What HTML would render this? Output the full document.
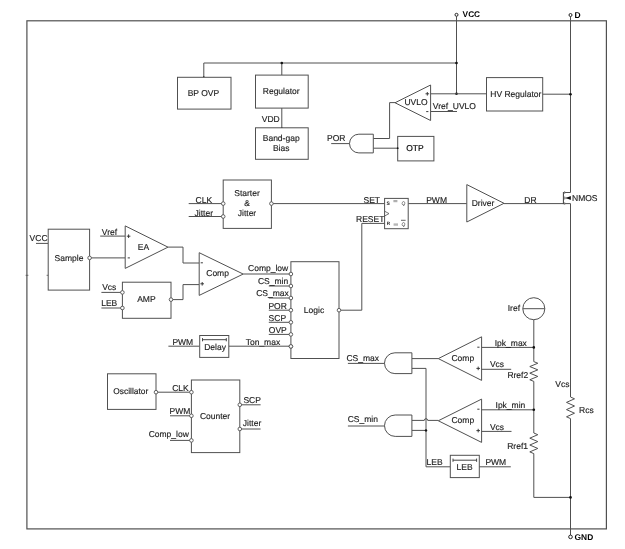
<!DOCTYPE html>
<html lang="en">
<head>
<meta charset="utf-8">
<title>Block diagram</title>
<style>
html,body{margin:0;padding:0;background:#fff;}
body{width:625px;height:549px;overflow:hidden;}
svg{display:block;will-change:transform;font-family:"Liberation Sans",sans-serif;-webkit-font-smoothing:antialiased;text-rendering:geometricPrecision;}
</style>
</head>
<body>
<svg width="625" height="549" viewBox="0 0 625 549">
<rect x="0" y="0" width="625" height="549" fill="#fff"/>
<rect x="26.9" y="20.8" width="579.5" height="508.1" fill="none" stroke="#505050" stroke-width="1.2"/>
<path d="M456.5 16.4 L456.5 93.8" stroke="#505050" stroke-width="1" fill="none"/>
<circle cx="456.5" cy="14.8" r="1.5" fill="#fff" stroke="#222" stroke-width="1"/>
<text x="462.6" y="16.688" font-size="8.3" text-anchor="start" font-weight="bold" fill="#000">VCC</text>
<path d="M570.5 16.6 L570.5 192.5" stroke="#505050" stroke-width="1" fill="none"/>
<circle cx="570.5" cy="15" r="1.5" fill="#fff" stroke="#222" stroke-width="1"/>
<text x="574.6" y="17.86" font-size="8.5" text-anchor="start" font-weight="bold" fill="#000">D</text>
<path d="M203.8 77.1 L203.8 63 L456.5 63" stroke="#505050" stroke-width="1" fill="none"/>
<path d="M281.8 63 L281.8 75.1" stroke="#505050" stroke-width="1" fill="none"/>
<circle cx="203.8" cy="77.1" r="0.8" fill="#111"/>
<circle cx="281.8" cy="63" r="1.3" fill="#111"/>
<circle cx="456.5" cy="63" r="1.3" fill="#111"/>
<circle cx="456.5" cy="93.8" r="1.3" fill="#111"/>
<rect x="177.5" y="77.3" width="53.5" height="31.8" fill="#fff" stroke="#505050" stroke-width="1"/>
<text x="203.4" y="95.66" font-size="8.5" text-anchor="middle" fill="#1c1c1c" stroke="#1c1c1c" stroke-width="0.15">BP OVP</text>
<rect x="255.5" y="75.1" width="52.7" height="33" fill="#fff" stroke="#505050" stroke-width="1"/>
<text x="281.2" y="94.16" font-size="8.5" text-anchor="middle" fill="#1c1c1c" stroke="#1c1c1c" stroke-width="0.15">Regulator</text>
<path d="M281.8 108.1 L281.8 127.8" stroke="#505050" stroke-width="1" fill="none"/>
<text x="261.8" y="121.96" font-size="8.5" text-anchor="start" fill="#1c1c1c" stroke="#1c1c1c" stroke-width="0.15">VDD</text>
<circle cx="281.8" cy="127.8" r="0.8" fill="#111"/>
<rect x="255.5" y="127.8" width="52.7" height="31.5" fill="#fff" stroke="#505050" stroke-width="1"/>
<text x="281.2" y="141.06" font-size="8.5" text-anchor="middle" fill="#1c1c1c" stroke="#1c1c1c" stroke-width="0.15">Band-gap</text>
<text x="281.2" y="150.66" font-size="8.5" text-anchor="middle" fill="#1c1c1c" stroke="#1c1c1c" stroke-width="0.15">Bias</text>
<path d="M430.6 93.8 L486.5 93.8" stroke="#505050" stroke-width="1" fill="none"/>
<path d="M430.6 111.5 L457 111.5" stroke="#505050" stroke-width="1" fill="none"/>
<path d="M430.6 85 L395 102.75 L430.6 120.5 Z" fill="#fff" stroke="#505050" stroke-width="1"/>
<text x="416" y="105.16" font-size="8.5" text-anchor="middle" fill="#1c1c1c" stroke="#1c1c1c" stroke-width="0.15">UVLO</text>
<path d="M425.5 93.8 L429.1 93.8" stroke="#2a2a2a" stroke-width="0.9" fill="none"/>
<path d="M427.3 92 L427.3 95.6" stroke="#2a2a2a" stroke-width="0.9" fill="none"/>
<path d="M426.2 111.6 L428.4 111.6" stroke="#222" stroke-width="0.9" fill="none"/>
<text x="432.8" y="108.56" font-size="8.5" text-anchor="start" fill="#1c1c1c" stroke="#1c1c1c" stroke-width="0.15">Vref_UVLO</text>
<path d="M395 102.6 L389.6 102.6 L389.6 138.5 L373.3 138.5" stroke="#505050" stroke-width="1" fill="none"/>
<rect x="486.5" y="77.6" width="56.2" height="33.4" fill="#fff" stroke="#505050" stroke-width="1"/>
<text x="515.8" y="96.96" font-size="8.5" text-anchor="middle" fill="#1c1c1c" stroke="#1c1c1c" stroke-width="0.15">HV Regulator</text>
<path d="M542.7 94.2 L570.5 94.2" stroke="#505050" stroke-width="1" fill="none"/>
<circle cx="570.5" cy="94.2" r="1.3" fill="#111"/>
<path d="M331.2 143.6 L351 143.6" stroke="#505050" stroke-width="1" fill="none"/>
<text x="327" y="141.26" font-size="8.5" text-anchor="start" fill="#1c1c1c" stroke="#1c1c1c" stroke-width="0.15">POR</text>
<path d="M373.3 148.2 L397.7 148.2" stroke="#505050" stroke-width="1" fill="none"/>
<path d="M373.3 134.2 L358.85 134.2 A9.35 9.35 0 0 0 358.85 152.9 L373.3 152.9 Z" fill="#fff" stroke="#505050" stroke-width="1"/>
<rect x="397.7" y="136.4" width="36.2" height="24.5" fill="#fff" stroke="#505050" stroke-width="1"/>
<text x="415" y="150.96" font-size="8.5" text-anchor="middle" fill="#000" stroke="#000" stroke-width="0.15">OTP</text>
<circle cx="397.7" cy="148.2" r="0.9" fill="#111"/>
<path d="M188.7 203.6 L223.2 203.6" stroke="#505050" stroke-width="1" fill="none"/>
<path d="M188.7 216.5 L223.2 216.5" stroke="#505050" stroke-width="1" fill="none"/>
<text x="203.8" y="203.46" font-size="8.5" text-anchor="middle" fill="#1c1c1c" stroke="#1c1c1c" stroke-width="0.15">CLK</text>
<text x="203.8" y="215.66" font-size="8.5" text-anchor="middle" fill="#1c1c1c" stroke="#1c1c1c" stroke-width="0.15">Jitter</text>
<rect x="223.2" y="180" width="48.2" height="48.4" fill="#fff" stroke="#505050" stroke-width="1"/>
<text x="247" y="195.96" font-size="8.5" text-anchor="middle" fill="#1c1c1c" stroke="#1c1c1c" stroke-width="0.15">Starter</text>
<text x="247" y="205.96" font-size="8.5" text-anchor="middle" fill="#1c1c1c" stroke="#1c1c1c" stroke-width="0.15">&amp;</text>
<text x="247" y="215.96" font-size="8.5" text-anchor="middle" fill="#1c1c1c" stroke="#1c1c1c" stroke-width="0.15">Jitter</text>
<path d="M271.4 203.6 L384.6 203.6" stroke="#505050" stroke-width="1" fill="none"/>
<circle cx="223.2" cy="203.6" r="1.8" fill="#fff" stroke="#505050" stroke-width="0.9"/>
<circle cx="223.2" cy="216.5" r="1.8" fill="#fff" stroke="#505050" stroke-width="0.9"/>
<circle cx="271.4" cy="203.6" r="1.8" fill="#fff" stroke="#505050" stroke-width="0.9"/>
<path d="M361.8 310.2 L361.8 223.4 L384.6 223.4" stroke="#505050" stroke-width="1" fill="none"/>
<path d="M408.2 203.6 L466.8 203.6" stroke="#505050" stroke-width="1" fill="none"/>
<rect x="384.6" y="198.4" width="23.6" height="30.3" fill="#fff" stroke="#505050" stroke-width="1"/>
<text x="371.8" y="202.86" font-size="8.5" text-anchor="middle" fill="#1c1c1c" stroke="#1c1c1c" stroke-width="0.15">SET</text>
<text x="370.2" y="222.26" font-size="8.5" text-anchor="middle" fill="#1c1c1c" stroke="#1c1c1c" stroke-width="0.15">RESET</text>
<text x="436.6" y="203.06" font-size="8.5" text-anchor="middle" fill="#1c1c1c" stroke="#1c1c1c" stroke-width="0.15">PWM</text>
<text x="388.2" y="204.6" font-size="5" text-anchor="middle" font-weight="bold" fill="#222">S</text>
<text x="403.4" y="204.6" font-size="5" text-anchor="middle" font-style="italic" fill="#222">Q</text>
<text x="388.4" y="225.456" font-size="4.6" text-anchor="middle" font-weight="bold" fill="#222">R</text>
<text x="403.4" y="226" font-size="5" text-anchor="middle" font-style="italic" fill="#222">Q</text>
<path d="M401 220.3 L405.6 220.3" stroke="#222" stroke-width="0.7" fill="none"/>
<path d="M393.4 200.6 L397.4 200.6" stroke="#666" stroke-width="0.6" fill="none"/>
<path d="M393.4 201.7 L397.4 201.7" stroke="#666" stroke-width="0.6" fill="none"/>
<path d="M393.6 224 L398 224" stroke="#666" stroke-width="0.6" fill="none"/>
<path d="M393.6 225.1 L398 225.1" stroke="#666" stroke-width="0.6" fill="none"/>
<path d="M384.6 211.2 L389 213.6 L384.6 216" stroke="#505050" stroke-width="0.8" fill="none"/>
<path d="M466.8 184.6 L504 203.3 L466.8 222 Z" fill="#fff" stroke="#505050" stroke-width="1"/>
<text x="483" y="206.46" font-size="8.5" text-anchor="middle" fill="#1c1c1c" stroke="#1c1c1c" stroke-width="0.15">Driver</text>
<path d="M504 203.6 L563.4 203.6" stroke="#505050" stroke-width="1" fill="none"/>
<text x="530.4" y="203.06" font-size="8.5" text-anchor="middle" fill="#1c1c1c" stroke="#1c1c1c" stroke-width="0.15">DR</text>
<path d="M563.4 192 L563.4 204.2" stroke="#3a3a3a" stroke-width="1" fill="none"/>
<path d="M564.2 192.5 L570.5 192.5" stroke="#505050" stroke-width="1" fill="none"/>
<path d="M564.2 203.6 L570.5 203.6" stroke="#505050" stroke-width="1" fill="none"/>
<path d="M564.7 191 L564.7 194" stroke="#777" stroke-width="0.8" fill="none"/>
<path d="M564.7 196.4 L564.7 199.6" stroke="#777" stroke-width="0.8" fill="none"/>
<path d="M564.7 202.2 L564.7 205" stroke="#777" stroke-width="0.8" fill="none"/>
<path d="M564.6 198 L570.5 198" stroke="#505050" stroke-width="0.9" fill="none"/>
<path d="M565.8 198 L570.8 196 L570.8 200 Z" fill="#111"/>
<text x="572" y="200.66" font-size="8.5" text-anchor="start" fill="#1c1c1c" stroke="#1c1c1c" stroke-width="0.15">NMOS</text>
<path d="M570.5 203.6 L570.5 397" stroke="#505050" stroke-width="1" fill="none"/>
<path d="M570.5 397 L574.5 398.8 L566.5 402.4 L574.5 406 L566.5 409.6 L574.5 413.2 L566.5 416.8 L570.5 418.6" stroke="#505050" stroke-width="1" fill="none"/>
<path d="M570.5 418.6 L570.5 535" stroke="#505050" stroke-width="1" fill="none"/>
<text x="579" y="413.06" font-size="8.5" text-anchor="start" fill="#1c1c1c" stroke="#1c1c1c" stroke-width="0.15">Rcs</text>
<text x="569.4" y="387.06" font-size="8.5" text-anchor="end" fill="#1c1c1c" stroke="#1c1c1c" stroke-width="0.15">Vcs</text>
<circle cx="570.5" cy="536.9" r="1.8" fill="#fff" stroke="#222" stroke-width="1"/>
<text x="574.6" y="539.724" font-size="8.4" text-anchor="start" font-weight="bold" fill="#000">GND</text>
<path d="M36 243.4 L48.2 243.4" stroke="#505050" stroke-width="1" fill="none"/>
<text x="29.6" y="241.06" font-size="8.5" text-anchor="start" fill="#1c1c1c" stroke="#1c1c1c" stroke-width="0.15">VCC</text>
<rect x="48.2" y="229.2" width="41.4" height="60.9" fill="#fff" stroke="#505050" stroke-width="1"/>
<text x="69" y="260.56" font-size="8.5" text-anchor="middle" fill="#1c1c1c" stroke="#1c1c1c" stroke-width="0.15">Sample</text>
<path d="M89.6 257.9 L125.2 257.9" stroke="#505050" stroke-width="1" fill="none"/>
<circle cx="89.6" cy="257.9" r="1.8" fill="#fff" stroke="#505050" stroke-width="0.9"/>
<path d="M100.2 236.1 L125.2 236.1" stroke="#505050" stroke-width="1" fill="none"/>
<text x="101.8" y="234.86" font-size="8.5" text-anchor="start" fill="#1c1c1c" stroke="#1c1c1c" stroke-width="0.15">Vref</text>
<path d="M125.2 225.9 L168 247.15 L125.2 268.4 Z" fill="#fff" stroke="#505050" stroke-width="1"/>
<text x="143.4" y="249.96" font-size="8.5" text-anchor="middle" fill="#1c1c1c" stroke="#1c1c1c" stroke-width="0.15">EA</text>
<path d="M126.8 236.2 L130.4 236.2" stroke="#2a2a2a" stroke-width="0.9" fill="none"/>
<path d="M128.6 234.4 L128.6 238" stroke="#2a2a2a" stroke-width="0.9" fill="none"/>
<path d="M127.7 257.9 L129.9 257.9" stroke="#222" stroke-width="0.9" fill="none"/>
<path d="M168 247.1 L183 247.1 L183 263 L199.2 263" stroke="#505050" stroke-width="1" fill="none"/>
<path d="M101.4 292.4 L122.4 292.4" stroke="#505050" stroke-width="1" fill="none"/>
<path d="M101.4 308 L122.4 308" stroke="#505050" stroke-width="1" fill="none"/>
<text x="102.2" y="290.46" font-size="8.5" text-anchor="start" fill="#1c1c1c" stroke="#1c1c1c" stroke-width="0.15">Vcs</text>
<text x="101.2" y="305.86" font-size="8.5" text-anchor="start" fill="#1c1c1c" stroke="#1c1c1c" stroke-width="0.15">LEB</text>
<rect x="122.4" y="282.2" width="48.6" height="36.1" fill="#fff" stroke="#505050" stroke-width="1"/>
<text x="146.4" y="302.26" font-size="8.5" text-anchor="middle" fill="#1c1c1c" stroke="#1c1c1c" stroke-width="0.15">AMP</text>
<path d="M171 299.6 L183 299.6 L183 284.6 L199.2 284.6" stroke="#505050" stroke-width="1" fill="none"/>
<circle cx="122.4" cy="292.4" r="1.8" fill="#fff" stroke="#505050" stroke-width="0.9"/>
<circle cx="122.4" cy="308" r="1.8" fill="#fff" stroke="#505050" stroke-width="0.9"/>
<circle cx="171" cy="299.6" r="1.8" fill="#fff" stroke="#505050" stroke-width="0.9"/>
<path d="M199.2 252.7 L243.2 274.05 L199.2 295.4 Z" fill="#fff" stroke="#505050" stroke-width="1"/>
<text x="217.6" y="276.26" font-size="8.5" text-anchor="middle" fill="#1c1c1c" stroke="#1c1c1c" stroke-width="0.15">Comp</text>
<path d="M200.7 262.8 L202.9 262.8" stroke="#222" stroke-width="0.9" fill="none"/>
<path d="M200.4 283.8 L204 283.8" stroke="#2a2a2a" stroke-width="0.9" fill="none"/>
<path d="M202.2 282 L202.2 285.6" stroke="#2a2a2a" stroke-width="0.9" fill="none"/>
<path d="M243.2 274 L290.9 274" stroke="#505050" stroke-width="1" fill="none"/>
<rect x="290.9" y="261.7" width="48.1" height="96.8" fill="#fff" stroke="#505050" stroke-width="1"/>
<text x="314" y="312.86" font-size="8.5" text-anchor="middle" fill="#1c1c1c" stroke="#1c1c1c" stroke-width="0.15">Logic</text>
<path d="M268.8 286 L290.9 286" stroke="#505050" stroke-width="1" fill="none"/>
<path d="M268.8 298 L290.9 298" stroke="#505050" stroke-width="1" fill="none"/>
<path d="M268.8 310.2 L290.9 310.2" stroke="#505050" stroke-width="1" fill="none"/>
<path d="M268.8 322.3 L290.9 322.3" stroke="#505050" stroke-width="1" fill="none"/>
<path d="M268.8 334.4 L290.9 334.4" stroke="#505050" stroke-width="1" fill="none"/>
<text x="288.2" y="271.26" font-size="8.5" text-anchor="end" fill="#1c1c1c" stroke="#1c1c1c" stroke-width="0.15">Comp_low</text>
<text x="288.2" y="283.86" font-size="8.5" text-anchor="end" fill="#1c1c1c" stroke="#1c1c1c" stroke-width="0.15">CS_min</text>
<text x="288.8" y="295.86" font-size="8.5" text-anchor="end" fill="#1c1c1c" stroke="#1c1c1c" stroke-width="0.15">CS_max</text>
<text x="268.4" y="309.06" font-size="8.5" text-anchor="start" fill="#1c1c1c" stroke="#1c1c1c" stroke-width="0.15">POR</text>
<text x="268.6" y="321.06" font-size="8.5" text-anchor="start" fill="#1c1c1c" stroke="#1c1c1c" stroke-width="0.15">SCP</text>
<text x="268.8" y="333.26" font-size="8.5" text-anchor="start" fill="#1c1c1c" stroke="#1c1c1c" stroke-width="0.15">OVP</text>
<text x="280.2" y="345.46" font-size="8.5" text-anchor="end" fill="#1c1c1c" stroke="#1c1c1c" stroke-width="0.15">Ton_max</text>
<path d="M339 310.2 L361.8 310.2" stroke="#505050" stroke-width="1" fill="none"/>
<circle cx="290.9" cy="274" r="1.8" fill="#fff" stroke="#505050" stroke-width="0.9"/>
<circle cx="290.9" cy="286" r="1.8" fill="#fff" stroke="#505050" stroke-width="0.9"/>
<circle cx="290.9" cy="298" r="1.8" fill="#fff" stroke="#505050" stroke-width="0.9"/>
<circle cx="290.9" cy="310.2" r="1.8" fill="#fff" stroke="#505050" stroke-width="0.9"/>
<circle cx="290.9" cy="322.3" r="1.8" fill="#fff" stroke="#505050" stroke-width="0.9"/>
<circle cx="290.9" cy="334.4" r="1.8" fill="#fff" stroke="#505050" stroke-width="0.9"/>
<circle cx="290.9" cy="346.4" r="1.8" fill="#fff" stroke="#505050" stroke-width="0.9"/>
<circle cx="339" cy="310.2" r="1.8" fill="#fff" stroke="#505050" stroke-width="0.9"/>
<path d="M168.4 346.2 L199.4 346.2" stroke="#505050" stroke-width="1" fill="none"/>
<text x="182.8" y="345.26" font-size="8.5" text-anchor="middle" fill="#1c1c1c" stroke="#1c1c1c" stroke-width="0.15">PWM</text>
<path d="M228.8 346.2 L290.9 346.2" stroke="#505050" stroke-width="1" fill="none"/>
<rect x="199.7" y="335.5" width="29.1" height="21.9" fill="#fff" stroke="#505050" stroke-width="1"/>
<text x="215.1" y="350.46" font-size="8.5" text-anchor="middle" fill="#1c1c1c" stroke="#1c1c1c" stroke-width="0.15">Delay</text>
<path d="M202.5 339.7 L226.3 339.7" stroke="#444" stroke-width="1" fill="none"/>
<path d="M202.5 338.1 L202.5 341.3" stroke="#444" stroke-width="1" fill="none"/>
<path d="M226.3 338.1 L226.3 341.3" stroke="#444" stroke-width="1" fill="none"/>
<circle cx="290.9" cy="346.4" r="1.8" fill="#fff" stroke="#505050" stroke-width="0.9"/>
<rect x="107.5" y="373.8" width="48.5" height="35.6" fill="#fff" stroke="#505050" stroke-width="1"/>
<text x="130.8" y="394.024" font-size="8.4" text-anchor="middle" fill="#1c1c1c" stroke="#1c1c1c" stroke-width="0.15">Oscillator</text>
<path d="M156 392.2 L191.4 392.2" stroke="#505050" stroke-width="1" fill="none"/>
<path d="M170 415.8 L191.4 415.8" stroke="#505050" stroke-width="1" fill="none"/>
<path d="M170 440.4 L191.4 440.4" stroke="#505050" stroke-width="1" fill="none"/>
<rect x="191.4" y="380" width="48.4" height="72.6" fill="#fff" stroke="#505050" stroke-width="1"/>
<text x="215" y="418.66" font-size="8.5" text-anchor="middle" fill="#1c1c1c" stroke="#1c1c1c" stroke-width="0.15">Counter</text>
<text x="180.4" y="390.86" font-size="8.5" text-anchor="middle" fill="#1c1c1c" stroke="#1c1c1c" stroke-width="0.15">CLK</text>
<text x="180" y="414.06" font-size="8.5" text-anchor="middle" fill="#1c1c1c" stroke="#1c1c1c" stroke-width="0.15">PWM</text>
<text x="188.8" y="436.66" font-size="8.5" text-anchor="end" fill="#1c1c1c" stroke="#1c1c1c" stroke-width="0.15">Comp_low</text>
<path d="M239.8 404.8 L260.6 404.8" stroke="#505050" stroke-width="1" fill="none"/>
<path d="M239.8 429 L260.6 429" stroke="#505050" stroke-width="1" fill="none"/>
<text x="243.4" y="402.86" font-size="8.5" text-anchor="start" fill="#1c1c1c" stroke="#1c1c1c" stroke-width="0.15">SCP</text>
<text x="242.8" y="426.46" font-size="8.5" text-anchor="start" fill="#1c1c1c" stroke="#1c1c1c" stroke-width="0.15">Jitter</text>
<circle cx="156" cy="392.2" r="1.8" fill="#fff" stroke="#505050" stroke-width="0.9"/>
<circle cx="191.4" cy="392.2" r="1.8" fill="#fff" stroke="#505050" stroke-width="0.9"/>
<circle cx="191.4" cy="415.8" r="1.8" fill="#fff" stroke="#505050" stroke-width="0.9"/>
<circle cx="191.4" cy="440.4" r="1.8" fill="#fff" stroke="#505050" stroke-width="0.9"/>
<circle cx="239.8" cy="404.8" r="1.8" fill="#fff" stroke="#505050" stroke-width="0.9"/>
<circle cx="239.8" cy="429" r="1.8" fill="#fff" stroke="#505050" stroke-width="0.9"/>
<path d="M347.9 363.4 L386 363.4" stroke="#505050" stroke-width="1" fill="none"/>
<text x="346.4" y="361.06" font-size="8.5" text-anchor="start" fill="#1c1c1c" stroke="#1c1c1c" stroke-width="0.15">CS_max</text>
<path d="M411.9 358.6 L438.3 358.6" stroke="#505050" stroke-width="1" fill="none"/>
<path d="M411.9 368.4 L426 368.4 L426 466.8 L450.3 466.8" stroke="#505050" stroke-width="1" fill="none"/>
<path d="M411.9 352.8 L394.9 352.8 A10.4 10.4 0 0 0 394.9 373.6 L411.9 373.6 Z" fill="#fff" stroke="#505050" stroke-width="1"/>
<path d="M481.6 336.8 L438.3 358.6 L481.6 380.4 Z" fill="#fff" stroke="#505050" stroke-width="1"/>
<text x="462.8" y="360.86" font-size="8.5" text-anchor="middle" fill="#1c1c1c" stroke="#1c1c1c" stroke-width="0.15">Comp</text>
<path d="M477.3 347.2 L479.5 347.2" stroke="#222" stroke-width="0.9" fill="none"/>
<path d="M476.4 368.4 L480 368.4" stroke="#2a2a2a" stroke-width="0.9" fill="none"/>
<path d="M478.2 366.6 L478.2 370.2" stroke="#2a2a2a" stroke-width="0.9" fill="none"/>
<path d="M481.6 347.4 L534.1 347.4" stroke="#505050" stroke-width="1" fill="none"/>
<path d="M481.6 369.3 L511.2 369.3" stroke="#505050" stroke-width="1" fill="none"/>
<text x="510.8" y="345.66" font-size="8.5" text-anchor="middle" fill="#1c1c1c" stroke="#1c1c1c" stroke-width="0.15">Ipk_max</text>
<text x="497" y="367.06" font-size="8.5" text-anchor="middle" fill="#1c1c1c" stroke="#1c1c1c" stroke-width="0.15">Vcs</text>
<path d="M347.9 426 L386 426" stroke="#505050" stroke-width="1" fill="none"/>
<text x="347.7" y="422.46" font-size="8.5" text-anchor="start" fill="#1c1c1c" stroke="#1c1c1c" stroke-width="0.15">CS_min</text>
<path d="M411.9 420.4 L424.3 420.4" stroke="#505050" stroke-width="1" fill="none"/>
<path d="M424.3 420.4 A1.7 1.7 0 0 1 427.7 420.4" stroke="#505050" fill="none" stroke-width="1"/>
<path d="M427.7 420.4 L438.3 420.4" stroke="#505050" stroke-width="1" fill="none"/>
<path d="M411.9 430.4 L426 430.4" stroke="#505050" stroke-width="1" fill="none"/>
<circle cx="426" cy="430.4" r="1.2" fill="#111"/>
<path d="M411.9 415 L395.2 415 A10.7 10.7 0 0 0 395.2 436.4 L411.9 436.4 Z" fill="#fff" stroke="#505050" stroke-width="1"/>
<path d="M481.6 399.1 L438.3 420.75 L481.6 442.4 Z" fill="#fff" stroke="#505050" stroke-width="1"/>
<text x="462.8" y="423.06" font-size="8.5" text-anchor="middle" fill="#1c1c1c" stroke="#1c1c1c" stroke-width="0.15">Comp</text>
<path d="M477.3 409.2 L479.5 409.2" stroke="#222" stroke-width="0.9" fill="none"/>
<path d="M476.4 430.6 L480 430.6" stroke="#2a2a2a" stroke-width="0.9" fill="none"/>
<path d="M478.2 428.8 L478.2 432.4" stroke="#2a2a2a" stroke-width="0.9" fill="none"/>
<path d="M481.6 409.8 L534.1 409.8" stroke="#505050" stroke-width="1" fill="none"/>
<path d="M481.6 431.4 L511.5 431.4" stroke="#505050" stroke-width="1" fill="none"/>
<text x="510.4" y="408.06" font-size="8.5" text-anchor="middle" fill="#1c1c1c" stroke="#1c1c1c" stroke-width="0.15">Ipk_min</text>
<text x="497" y="429.86" font-size="8.5" text-anchor="middle" fill="#1c1c1c" stroke="#1c1c1c" stroke-width="0.15">Vcs</text>
<text x="426.6" y="464.86" font-size="8.5" text-anchor="start" fill="#1c1c1c" stroke="#1c1c1c" stroke-width="0.15">LEB</text>
<rect x="450.3" y="455.3" width="29" height="22.3" fill="#fff" stroke="#505050" stroke-width="1"/>
<text x="464.6" y="470.26" font-size="8.5" text-anchor="middle" fill="#1c1c1c" stroke="#1c1c1c" stroke-width="0.15">LEB</text>
<path d="M453 460.2 L476.6 460.2" stroke="#444" stroke-width="1" fill="none"/>
<path d="M453 458.6 L453 461.8" stroke="#444" stroke-width="1" fill="none"/>
<path d="M476.6 458.6 L476.6 461.8" stroke="#444" stroke-width="1" fill="none"/>
<path d="M479.3 466.8 L510.8 466.8" stroke="#505050" stroke-width="1" fill="none"/>
<text x="495.8" y="464.86" font-size="8.5" text-anchor="middle" fill="#1c1c1c" stroke="#1c1c1c" stroke-width="0.15">PWM</text>
<path d="M533.8 319.7 L533.8 361.6" stroke="#505050" stroke-width="1" fill="none"/>
<path d="M533.8 361.6 L537.8 363.25 L529.8 366.55 L537.8 369.85 L529.8 373.15 L537.8 376.45 L529.8 379.75 L533.8 381.4" stroke="#505050" stroke-width="1" fill="none"/>
<path d="M533.8 381.4 L533.8 433" stroke="#505050" stroke-width="1" fill="none"/>
<path d="M533.8 433 L537.8 434.717 L529.8 438.15 L537.8 441.583 L529.8 445.017 L537.8 448.45 L529.8 451.883 L533.8 453.6" stroke="#505050" stroke-width="1" fill="none"/>
<path d="M533.8 453.6 L533.8 497.4 L570.5 497.4" stroke="#505050" stroke-width="1" fill="none"/>
<circle cx="533.8" cy="308.7" r="11" fill="#fff" stroke="#505050" stroke-width="1"/>
<path d="M522.8 308.7 L544.8 308.7" stroke="#505050" stroke-width="1" fill="none"/>
<text x="520" y="310.66" font-size="8.5" text-anchor="end" fill="#1c1c1c" stroke="#1c1c1c" stroke-width="0.15">Iref</text>
<text x="528.2" y="377.66" font-size="8.5" text-anchor="end" fill="#1c1c1c" stroke="#1c1c1c" stroke-width="0.15">Rref2</text>
<text x="528" y="449.06" font-size="8.5" text-anchor="end" fill="#1c1c1c" stroke="#1c1c1c" stroke-width="0.15">Rref1</text>
<circle cx="533.8" cy="347.4" r="1.3" fill="#111"/>
<circle cx="533.8" cy="409.8" r="1.3" fill="#111"/>
<circle cx="570.5" cy="497.4" r="1.3" fill="#111"/>
<path d="M25.6 275.3 L28.4 275.3" stroke="#505050" stroke-width="0.8" fill="none"/>
<path d="M46.6 275.3 L48.2 275.3" stroke="#505050" stroke-width="0.8" fill="none"/>
</svg>
</body>
</html>
